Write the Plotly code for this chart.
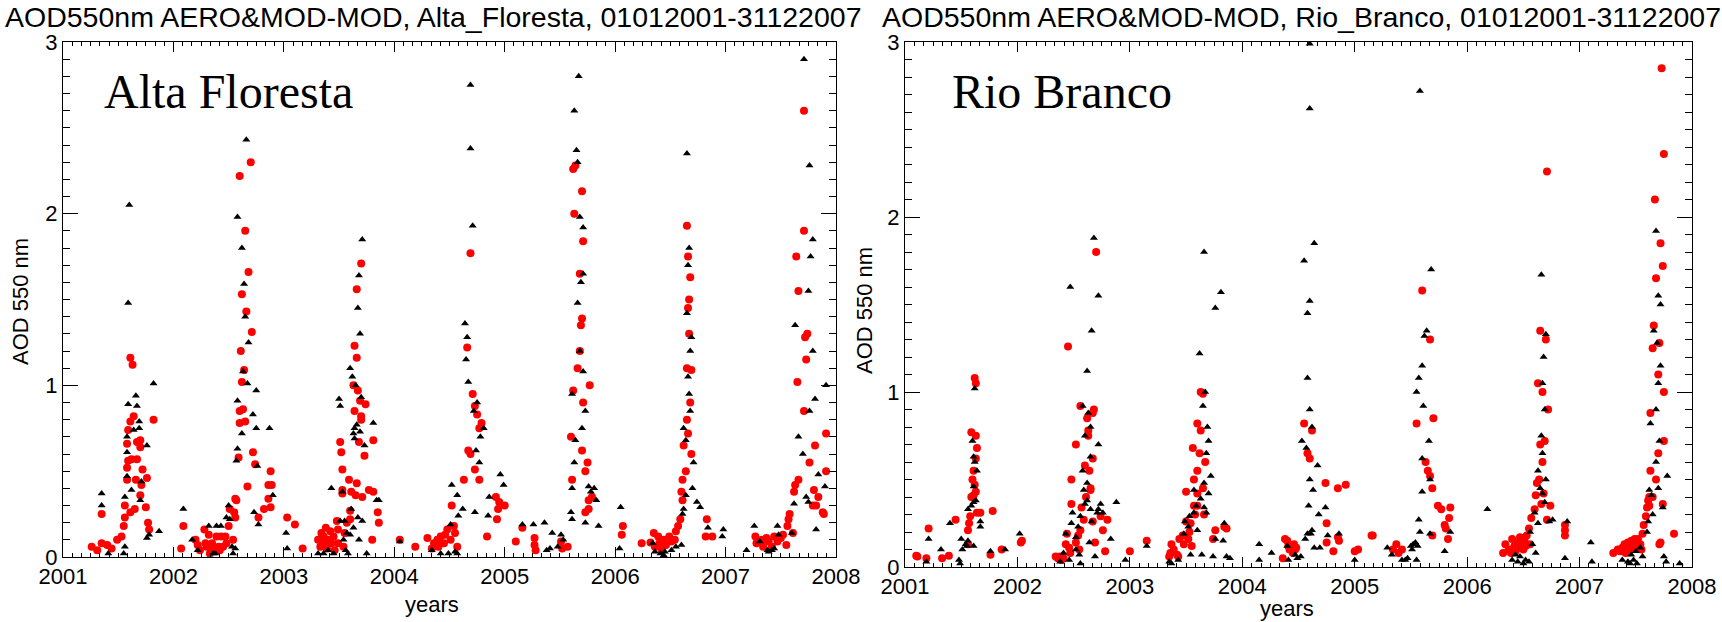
import plotly.graph_objects as go

# ---------------- data (decimal year, AOD 550 nm) ----------------
af_aero = [
    (2001.26,0.06),(2001.31,0.04),(2001.35,0.08),(2001.35,0.25),(2001.40,0.07),(2001.44,0.05),(2001.49,0.10),
    (2001.53,0.12),(2001.55,0.18),(2001.56,0.23),(2001.56,0.30),(2001.58,0.45),(2001.58,0.52),(2001.59,0.56),
    (2001.58,0.66),(2001.59,0.74),(2001.61,0.79),(2001.64,0.82),(2001.62,0.57),(2001.61,0.26),(2001.65,0.28),
    (2001.66,0.45),(2001.67,0.57),(2001.67,0.67),(2001.70,0.68),(2001.70,0.64),(2001.70,0.36),(2001.71,0.42),
    (2001.72,0.51),(2001.75,0.29),(2001.76,0.46),(2001.77,0.20),(2001.78,0.16),(2001.82,0.80),(2001.61,1.16),
    (2001.63,1.12),
    (2002.07,0.05),(2002.09,0.18),(2002.20,0.10),(2002.22,0.07),(2002.24,0.04),(2002.28,0.16),(2002.29,0.08),
    (2002.30,0.06),(2002.32,0.13),(2002.33,0.02),(2002.35,0.08),(2002.36,0.05),(2002.39,0.12),(2002.41,0.06),
    (2002.42,0.04),(2002.43,0.12),(2002.45,0.06),(2002.47,0.12),(2002.48,0.08),(2002.50,0.18),(2002.51,0.28),
    (2002.54,0.10),(2002.55,0.26),(2002.56,0.23),(2002.56,0.34),(2002.57,0.33),(2002.59,0.58),(2002.60,0.78),
    (2002.63,0.86),(2002.65,0.79),(2002.67,0.41),(2002.72,0.61),(2002.74,0.54),(2002.77,0.23),(2002.82,0.28),
    (2002.86,0.42),(2002.86,0.34),(2002.88,0.50),(2002.89,0.42),(2002.88,0.29),(2002.60,2.22),(2002.70,2.30),
    (2002.65,1.90),(2002.68,1.66),(2002.62,1.53),(2002.66,1.43),(2002.71,1.31),(2002.61,1.20),(2002.64,1.09),
    (2002.62,1.02),(2002.60,0.85),
    (2003.03,0.23),(2003.10,0.19),(2003.17,0.05),(2003.31,0.10),(2003.33,0.06),(2003.36,0.12),(2003.37,0.08),
    (2003.39,0.05),(2003.40,0.10),(2003.43,0.08),(2003.45,0.12),(2003.48,0.21),(2003.49,0.16),(2003.49,0.08),
    (2003.51,0.67),(2003.52,0.61),(2003.53,0.51),(2003.53,0.39),(2003.53,0.37),(2003.54,0.06),(2003.55,0.14),
    (2003.57,0.20),(2003.59,0.45),(2003.60,0.22),(2003.60,0.27),(2003.61,0.38),(2003.64,0.85),(2003.65,0.36),
    (2003.66,0.43),(2003.68,0.67),(2003.69,0.91),(2003.70,0.82),(2003.71,0.35),(2003.70,0.80),(2003.73,0.59),
    (2003.74,0.89),(2003.77,0.39),(2003.80,0.10),(2003.81,0.38),(2003.81,0.68),(2003.85,0.26),(2003.86,0.20),
    (2003.70,1.71),(2003.66,1.56),(2003.64,1.23),(2003.66,1.16),(2003.63,1.00),(2003.67,0.97),(2003.34,0.14),
    (2003.42,0.15),(2003.46,0.04),(2003.38,0.17),
    (2004.05,0.10),(2004.19,0.06),(2004.30,0.11),(2004.34,0.05),(2004.36,0.08),(2004.39,0.10),(2004.40,0.06),
    (2004.42,0.12),(2004.45,0.08),(2004.46,0.13),(2004.48,0.16),(2004.51,0.10),(2004.52,0.30),(2004.54,0.18),
    (2004.55,0.14),(2004.57,0.06),(2004.84,0.12),(2004.93,0.22),(2004.95,0.32),(2005.00,0.30),(2004.69,1.77),
    (2004.66,1.22),(2004.71,0.95),(2004.73,0.88),(2004.75,0.83),(2004.79,0.78),(2004.77,0.75),(2004.69,0.60),
    (2004.73,0.51),(2004.77,0.45),(2004.67,0.62),(2004.63,0.45),(2004.92,0.35),(2004.94,0.28),
    (2005.10,0.09),(2005.16,0.17),(2005.27,0.11),(2005.27,0.07),(2005.28,0.04),(2005.51,0.09),(2005.52,0.05),
    (2005.57,0.06),(2005.73,0.26),(2005.76,0.33),(2005.62,2.26),(2005.64,2.28),(2005.70,2.13),(2005.63,2.00),
    (2005.71,1.84),(2005.68,1.65),(2005.70,1.39),(2005.69,1.35),(2005.68,1.20),(2005.66,1.10),(2005.77,1.00),
    (2005.62,0.97),(2005.71,0.90),(2005.60,0.70),(2005.70,0.62),(2005.75,0.55),(2005.73,0.50),(2005.61,0.45),
    (2005.79,0.35),(2005.76,0.28),
    (2006.06,0.13),(2006.07,0.18),(2006.24,0.08),(2006.32,0.085),(2006.35,0.14),(2006.36,0.06),(2006.39,0.12),
    (2006.40,0.08),(2006.42,0.04),(2006.44,0.10),(2006.46,0.07),(2006.49,0.12),(2006.51,0.09),(2006.54,0.10),
    (2006.55,0.15),(2006.57,0.18),(2006.59,0.22),(2006.60,0.38),(2006.61,0.33),(2006.83,0.22),(2006.82,0.12),
    (2006.88,0.12),(2006.65,1.93),(2006.66,1.75),(2006.68,1.63),(2006.67,1.50),(2006.66,1.45),(2006.67,1.30),
    (2006.65,1.10),(2006.69,1.09),(2006.68,0.90),(2006.65,0.80),(2006.66,0.72),(2006.62,0.65),(2006.69,0.60),
    (2006.64,0.50),(2006.61,0.45),
    (2007.27,0.12),(2007.28,0.08),(2007.33,0.10),(2007.34,0.06),(2007.37,0.11),(2007.39,0.09),(2007.42,0.06),
    (2007.44,0.12),(2007.47,0.09),(2007.50,0.11),(2007.52,0.13),(2007.55,0.07),(2007.56,0.18),(2007.57,0.22),
    (2007.58,0.25),(2007.61,0.14),(2007.62,0.38),(2007.63,0.42),(2007.80,0.39),(2007.82,0.30),(2007.88,0.26),
    (2007.71,2.60),(2007.71,1.90),(2007.64,1.75),(2007.66,1.55),(2007.74,1.30),(2007.72,1.28),(2007.73,1.15),
    (2007.65,1.02),(2007.71,0.85),(2007.91,0.72),(2007.81,0.65),(2007.76,0.55),(2007.91,0.50),(2007.66,0.45),
    (2007.84,0.35),(2007.79,0.30),(2007.89,0.25),
]

af_mod = [
    (2001.35,0.37),(2001.35,0.30),(2001.41,0.02),(2001.55,0.02),(2001.56,0.06),(2001.56,0.35),(2001.58,0.47),
    (2001.58,0.61),(2001.58,0.70),(2001.59,0.89),(2001.62,0.39),(2001.64,0.74),(2001.66,0.94),(2001.67,0.88),
    (2001.69,0.79),(2001.69,0.75),(2001.70,0.33),(2001.71,0.44),(2001.76,0.65),(2001.76,0.11),(2001.78,0.13),
    (2001.82,1.01),(2001.87,0.15),(2001.60,2.05),(2001.59,1.48),
    (2002.09,0.28),(2002.17,0.10),(2002.22,0.04),(2002.32,0.18),(2002.36,0.02),(2002.38,0.02),(2002.39,0.18),
    (2002.43,0.18),(2002.48,0.23),(2002.50,0.30),(2002.51,0.22),(2002.53,0.06),(2002.54,0.02),(2002.56,0.05),
    (2002.57,0.56),(2002.58,0.63),(2002.58,0.91),(2002.62,0.72),(2002.67,1.01),(2002.72,0.83),(2002.73,0.26),
    (2002.75,0.75),(2002.76,0.53),(2002.77,0.19),(2002.87,0.75),(2002.90,0.36),(2003.02,0.14),(2003.03,0.05),
    (2002.66,2.43),(2002.58,1.98),(2002.62,1.80),(2002.64,1.59),(2002.65,1.40),(2002.68,1.25),(2002.63,1.08),
    (2002.75,0.97),
    (2003.31,0.02),(2003.36,0.02),(2003.40,0.04),(2003.43,0.40),(2003.45,0.02),(2003.50,0.92),(2003.51,0.88),
    (2003.51,0.21),(2003.53,0.38),(2003.54,0.10),(2003.55,0.21),(2003.56,0.04),(2003.57,0.14),(2003.58,0.02),
    (2003.60,0.13),(2003.61,0.28),(2003.63,0.17),(2003.63,0.72),(2003.64,0.69),(2003.64,0.75),(2003.65,1.00),
    (2003.66,0.77),(2003.67,0.23),(2003.68,0.10),(2003.69,0.73),(2003.70,0.93),(2003.71,0.21),(2003.73,0.65),
    (2003.75,0.02),(2003.81,0.78),(2003.84,0.33),(2003.86,0.33),(2003.71,1.85),(2003.68,1.64),(2003.67,1.45),
    (2003.69,1.30),(2003.60,1.10),(2003.62,1.05),
    (2004.05,0.09),(2004.34,0.04),(2004.42,0.02),(2004.49,0.02),(2004.51,0.19),(2004.52,0.42),(2004.57,0.36),
    (2004.58,0.24),(2004.62,0.28),(2004.73,0.26),(2004.85,0.24),(2004.55,0.03),(2004.57,0.02),(2004.69,2.75),
    (2004.69,2.38),(2004.71,1.93),(2004.64,1.36),(2004.66,1.28),(2004.65,1.15),(2004.67,1.02),(2004.75,0.90),
    (2004.72,0.85),(2004.81,0.75),(2004.78,0.70),(2004.74,0.62),(2004.77,0.55),(2004.96,0.48),(2004.86,0.35),
    (2004.99,0.42),
    (2005.16,0.19),(2005.26,0.19),(2005.36,0.20),(2005.43,0.14),(2005.38,0.04),(2005.41,0.05),(2005.48,0.06),
    (2005.51,0.13),(2005.53,0.10),(2005.60,0.26),(2005.61,0.22),(2005.61,0.40),(2005.73,0.20),(2005.76,0.41),
    (2005.85,0.18),(2005.83,0.33),(2005.67,2.80),(2005.63,2.60),(2005.65,2.37),(2005.66,2.30),(2005.68,1.98),
    (2005.71,1.92),(2005.71,1.65),(2005.69,1.60),(2005.66,1.48),(2005.68,1.20),(2005.71,1.08),(2005.61,0.95),
    (2005.73,0.85),(2005.70,0.75),(2005.64,0.68),(2005.63,0.55),(2005.81,0.40),(2005.78,0.38),
    (2006.05,0.29),(2006.04,0.05),(2006.34,0.08),(2006.36,0.03),(2006.41,0.02),(2006.44,0.01),(2006.45,0.03),
    (2006.51,0.04),(2006.55,0.06),(2006.60,0.07),(2006.61,0.25),(2006.62,0.28),(2006.64,0.36),(2006.74,0.32),
    (2006.77,0.29),(2006.84,0.17),(2006.98,0.16),(2006.97,0.12),(2006.65,2.35),(2006.67,1.80),(2006.66,1.70),
    (2006.65,1.42),(2006.69,1.28),(2006.68,1.20),(2006.66,1.05),(2006.67,0.95),(2006.68,0.85),(2006.62,0.75),
    (2006.64,0.68),(2006.71,0.55),(2006.70,0.40),
    (2007.19,0.04),(2007.26,0.18),(2007.31,0.09),(2007.38,0.04),(2007.39,0.03),(2007.42,0.04),(2007.44,0.05),
    (2007.47,0.18),(2007.48,0.13),(2007.60,0.14),(2007.62,0.31),(2007.75,0.32),(2007.82,0.16),(2007.90,0.41),
    (2007.71,2.90),(2007.76,2.28),(2007.79,1.85),(2007.77,1.75),(2007.75,1.55),(2007.63,1.35),(2007.79,1.20),
    (2007.91,1.00),(2007.81,0.92),(2007.76,0.85),(2007.66,0.70),(2007.70,0.60),(2007.84,0.48),(2007.73,0.35),
]

rb_aero = [
    (2001.10,0.065),(2001.11,0.06),(2001.19,0.05),(2001.21,0.22),(2001.33,0.05),(2001.39,0.065),(2001.45,0.27),
    (2001.56,0.13),(2001.56,0.21),(2001.57,0.25),(2001.58,0.29),(2001.59,0.40),(2001.61,0.41),(2001.63,0.43),
    (2001.64,0.31),(2001.67,0.31),(2001.76,0.07),(2001.78,0.32),(2001.86,0.10),(2002.03,0.14),(2002.04,0.15),
    (2001.62,1.08),(2001.63,1.05),(2001.59,0.77),(2001.63,0.75),(2001.64,0.68),(2001.63,0.62),(2001.61,0.55),
    (2001.60,0.50),(2001.62,0.47),
    (2002.34,0.06),(2002.36,0.05),(2002.38,0.06),(2002.39,0.04),(2002.41,0.05),(2002.43,0.13),(2002.44,0.19),
    (2002.46,0.11),(2002.47,0.08),(2002.48,0.36),(2002.52,0.14),(2002.54,0.18),(2002.55,0.10),(2002.56,0.21),
    (2002.57,0.34),(2002.59,0.27),(2002.61,0.40),(2002.65,0.44),(2002.67,0.26),(2002.69,0.14),(2002.74,0.29),
    (2002.76,0.21),(2002.78,0.09),(2002.80,0.27),(2003.00,0.09),(2003.15,0.15),(2002.70,1.80),(2002.45,1.26),
    (2002.56,0.92),(2002.68,0.90),(2002.67,0.88),(2002.62,0.85),(2002.63,0.78),(2002.63,0.75),(2002.52,0.70),
    (2002.67,0.62),(2002.60,0.58),(2002.64,0.55),(2002.48,0.50),(2002.65,0.45),
    (2003.35,0.06),(2003.36,0.08),(2003.37,0.13),(2003.39,0.10),(2003.42,0.07),(2003.43,0.06),(2003.44,0.16),
    (2003.47,0.18),(2003.48,0.13),(2003.50,0.43),(2003.50,0.26),(2003.52,0.16),(2003.53,0.20),(2003.54,0.25),
    (2003.55,0.12),(2003.57,0.35),(2003.58,0.30),(2003.60,0.42),(2003.60,0.35),(2003.66,0.30),(2003.74,0.16),
    (2003.76,0.21),(2003.84,0.23),(2003.86,0.22),(2003.63,1.00),(2003.65,0.99),(2003.60,0.82),(2003.63,0.78),
    (2003.56,0.68),(2003.62,0.65),(2003.67,0.60),(2003.60,0.55),(2003.57,0.50),(2003.65,0.45),
    (2004.36,0.05),(2004.38,0.16),(2004.40,0.15),(2004.41,0.12),(2004.42,0.10),(2004.45,0.08),(2004.46,0.13),
    (2004.47,0.10),(2004.48,0.11),(2004.75,0.14),(2004.75,0.25),(2004.81,0.09),(2004.85,0.17),(2004.86,0.15),
    (2004.92,0.47),(2005.00,0.09),(2005.03,0.10),(2005.15,0.18),(2004.55,0.82),(2004.62,0.78),(2004.58,0.65),
    (2004.60,0.62),(2004.74,0.48),(2004.85,0.45),
    (2005.16,0.18),(2005.34,0.10),(2005.37,0.13),(2005.39,0.08),(2005.42,0.10),(2005.69,0.18),(2005.74,0.35),
    (2005.77,0.33),(2005.80,0.24),(2005.81,0.22),(2005.84,0.28),(2005.85,0.34),(2005.83,0.16),(2005.60,1.58),
    (2005.67,1.30),(2005.70,0.85),(2005.55,0.82),(2005.63,0.60),(2005.65,0.55),(2005.67,0.52),(2005.69,0.45),
    (2006.32,0.08),(2006.34,0.13),(2006.37,0.10),(2006.39,0.08),(2006.40,0.16),(2006.42,0.12),(2006.43,0.09),
    (2006.45,0.14),(2006.46,0.11),(2006.47,0.17),(2006.48,0.13),(2006.50,0.10),(2006.51,0.15),(2006.52,0.12),
    (2006.53,0.18),(2006.55,0.22),(2006.56,0.13),(2006.57,0.28),(2006.60,0.33),(2006.61,0.41),(2006.62,0.48),
    (2006.66,0.36),(2006.68,0.42),(2006.71,0.27),(2006.74,0.35),(2006.87,0.24),(2006.87,0.21),(2006.87,0.18),
    (2006.71,2.26),(2006.65,1.35),(2006.70,1.30),(2006.63,1.05),(2006.67,1.00),(2006.72,0.90),(2006.69,0.72),
    (2006.65,0.70),(2006.67,0.60),(2006.64,0.50),
    (2007.30,0.08),(2007.34,0.10),(2007.36,0.09),(2007.38,0.11),(2007.40,0.13),(2007.41,0.08),(2007.43,0.14),
    (2007.44,0.12),(2007.45,0.10),(2007.46,0.15),(2007.48,0.13),(2007.49,0.16),(2007.50,0.12),(2007.51,0.13),
    (2007.52,0.16),(2007.54,0.13),(2007.55,0.10),(2007.56,0.19),(2007.57,0.24),(2007.59,0.29),(2007.60,0.34),
    (2007.61,0.38),(2007.62,0.40),(2007.65,0.40),(2007.71,0.13),(2007.72,0.14),(2007.74,0.36),(2007.84,0.19),
    (2007.73,2.85),(2007.75,2.36),(2007.67,2.10),(2007.72,1.85),(2007.74,1.72),(2007.68,1.65),(2007.66,1.38),
    (2007.71,1.28),(2007.65,1.25),(2007.70,1.10),(2007.75,1.00),(2007.63,0.88),(2007.75,0.72),(2007.70,0.65),
    (2007.63,0.55),(2007.68,0.50),(2007.62,0.35),
]

rb_mod = [
    (2001.19,0.03),(2001.21,0.16),(2001.32,0.10),(2001.40,0.25),(2001.48,0.04),(2001.49,0.02),(2001.50,0.16),
    (2001.51,0.10),(2001.54,0.13),(2001.55,0.12),(2001.56,0.33),(2001.59,0.35),(2001.61,0.37),(2001.61,0.12),
    (2001.67,0.26),(2001.67,0.23),(2001.76,0.09),(2001.89,0.10),(2002.02,0.19),(2001.56,0.15),(2001.62,1.02),
    (2001.60,0.72),(2001.61,0.63),(2001.62,0.60),(2001.64,0.55),(2001.61,0.46),(2001.63,0.38),
    (2002.38,0.03),(2002.41,0.08),(2002.43,0.19),(2002.46,0.04),(2002.48,0.25),(2002.49,0.31),(2002.52,0.10),
    (2002.52,0.17),(2002.54,0.23),(2002.55,0.07),(2002.56,0.02),(2002.56,0.29),(2002.59,0.44),(2002.60,0.36),
    (2002.62,0.38),(2002.64,0.14),(2002.65,0.33),(2002.66,0.26),(2002.69,0.06),(2002.71,0.31),(2002.72,0.33),
    (2002.74,0.36),(2002.76,0.31),(2002.83,0.16),(2002.88,0.37),(2002.96,0.04),(2003.15,0.12),(2002.68,1.88),
    (2002.47,1.60),(2002.72,1.55),(2002.66,1.35),(2002.62,1.12),(2002.58,0.92),(2002.63,0.88),(2002.65,0.80),
    (2002.60,0.75),(2002.72,0.70),(2002.65,0.63),(2002.58,0.55),(2002.62,0.48),
    (2003.35,0.03),(2003.37,0.02),(2003.43,0.04),(2003.48,0.19),(2003.49,0.26),(2003.52,0.23),(2003.53,0.29),
    (2003.54,0.07),(2003.57,0.31),(2003.57,0.44),(2003.59,0.35),(2003.60,0.21),(2003.63,0.39),(2003.64,0.07),
    (2003.66,0.34),(2003.68,0.31),(2003.70,0.42),(2003.74,0.06),(2003.76,0.16),(2003.83,0.15),(2003.84,0.25),
    (2003.86,0.06),(2003.89,0.05),(2003.66,1.80),(2003.81,1.57),(2003.76,1.48),(2003.62,1.22),(2003.67,1.00),
    (2003.65,0.92),(2003.69,0.80),(2003.70,0.72),(2003.68,0.65),(2003.72,0.52),(2003.66,0.48),
    (2004.15,0.13),(2004.15,0.04),(2004.26,0.08),(2004.40,0.12),(2004.41,0.04),(2004.47,0.07),(2004.49,0.05),
    (2004.52,0.06),(2004.56,0.16),(2004.58,0.19),(2004.59,0.35),(2004.61,0.19),(2004.62,0.21),(2004.63,0.44),
    (2004.64,0.11),(2004.68,0.30),(2004.69,0.11),(2004.74,0.34),(2004.76,0.18),(2004.86,0.19),(2005.00,0.04),
    (2004.60,2.99),(2004.60,2.62),(2004.64,1.85),(2004.55,1.75),(2004.60,1.52),(2004.58,1.45),(2004.58,1.08),
    (2004.60,0.90),(2004.62,0.80),(2004.53,0.72),(2004.57,0.68),(2004.67,0.58),(2004.60,0.50),
    (2005.29,0.11),(2005.33,0.07),(2005.42,0.04),(2005.45,0.04),(2005.47,0.05),(2005.50,0.12),(2005.51,0.10),
    (2005.52,0.13),(2005.54,0.14),(2005.55,0.04),(2005.56,0.12),(2005.57,0.27),(2005.58,0.20),(2005.60,0.43),
    (2005.67,0.19),(2005.80,0.09),(2005.85,0.20),(2005.58,2.72),(2005.68,1.70),(2005.64,1.35),(2005.62,1.32),
    (2005.60,1.15),(2005.57,1.08),(2005.55,1.00),(2005.61,0.92),(2005.66,0.72),(2005.60,0.62),(2005.67,0.50),
    (2006.18,0.33),(2006.40,0.04),(2006.43,0.07),(2006.45,0.03),(2006.47,0.06),(2006.50,0.02),(2006.52,0.04),
    (2006.55,0.03),(2006.56,0.20),(2006.58,0.13),(2006.60,0.31),(2006.61,0.08),(2006.63,0.25),(2006.65,0.45),
    (2006.67,0.42),(2006.69,0.37),(2006.73,0.26),(2006.76,0.27),(2006.89,0.26),(2006.87,0.05),(2007.11,0.03),
    (2007.10,0.14),(2006.66,1.67),(2006.70,1.33),(2006.68,1.20),(2006.67,1.05),(2006.69,0.90),(2006.66,0.75),
    (2006.67,0.65),(2006.63,0.55),(2006.70,0.50),
    (2007.38,0.04),(2007.43,0.03),(2007.45,0.02),(2007.46,0.07),(2007.48,0.04),(2007.50,0.09),(2007.51,0.02),
    (2007.54,0.11),(2007.56,0.06),(2007.60,0.20),(2007.61,0.26),(2007.62,0.44),(2007.64,0.41),(2007.74,0.34),
    (2007.75,0.06),(2007.77,0.03),(2007.89,0.02),(2007.68,1.92),(2007.70,1.55),(2007.72,1.50),(2007.66,1.35),
    (2007.69,1.28),(2007.72,1.15),(2007.70,1.05),(2007.68,0.90),(2007.63,0.82),(2007.71,0.72),(2007.68,0.60),
    (2007.78,0.52),(2007.70,0.45),(2007.65,0.30),
]

year_ticks = [2001, 2002, 2003, 2004, 2005, 2006, 2007, 2008]
aod_ticks = [0, 1, 2, 3]
titles = ["AOD550nm AERO&MOD-MOD, Alta_Floresta, 01012001-31122007",
          "AOD550nm AERO&MOD-MOD, Rio_Branco, 01012001-31122007"]
sites = ["Alta Floresta", "Rio Branco"]
x_title = "years"
y_title = "AOD 550 nm"

# ---------------- figure ----------------
W, H = 1722, 622
SANS = "Liberation Sans Narrow, Arial Narrow, Liberation Sans, Arial, sans-serif"
SERIF = "Liberation Serif, Times New Roman, serif"

fig = go.Figure()

def add_panel(aero, mod, xa, ya):
    fig.add_trace(go.Scatter(
        x=[p[0] for p in aero], y=[p[1] for p in aero], mode="markers",
        marker=dict(symbol="circle", size=8, color="#ff0000", line=dict(width=0)),
        xaxis=xa, yaxis=ya, hoverinfo="skip", showlegend=False, name="AERONET"))
    fig.add_trace(go.Scatter(
        x=[p[0] for p in mod], y=[p[1] for p in mod], mode="markers",
        marker=dict(symbol="triangle-up", size=7, color="#000000", line=dict(width=0)),
        xaxis=xa, yaxis=ya, hoverinfo="skip", showlegend=False, name="MODIS"))

add_panel(af_aero, af_mod, "x", "y")
add_panel(rb_aero, rb_mod, "x2", "y2")

def px(v):
    return v / W

def py(v):
    return (H - v) / H

def xaxis(domain, anchor):
    return dict(
        domain=domain, anchor=anchor, range=[2001, 2008], automargin=False,
        tickvals=year_ticks, ticktext=[str(t) for t in year_ticks],
        ticks="inside", ticklen=10, tickwidth=1, tickcolor="#000",
        minor=dict(dtick=1/12, tick0=2001, ticks="inside", ticklen=4, tickwidth=1, tickcolor="#000"),
        showline=True, linecolor="#000", linewidth=1, mirror="ticks",
        showgrid=False, zeroline=False,
        tickfont=dict(family=SANS, size=22, color="#000"),
    )

def yaxis(domain, anchor):
    return dict(
        domain=domain, anchor=anchor, range=[0, 3], automargin=False,
        tickvals=aod_ticks, ticktext=[str(t) for t in aod_ticks],
        ticks="inside", ticklen=15, tickwidth=1, tickcolor="#000",
        minor=dict(dtick=0.1, tick0=0, ticks="inside", ticklen=7, tickwidth=1, tickcolor="#000"),
        showline=True, linecolor="#000", linewidth=1, mirror="ticks",
        showgrid=False, zeroline=False,
        tickfont=dict(family=SANS, size=22, color="#000"),
    )

def note(text, x, y, size, family=SANS, xanchor="center", angle=0):
    return dict(text=text, x=px(x), y=py(y), xref="paper", yref="paper",
                xanchor=xanchor, yanchor="middle", showarrow=False, textangle=angle,
                font=dict(family=family, size=size, color="#000"))

fig.update_layout(
    width=W, height=H, margin=dict(l=0, r=0, t=0, b=0, autoexpand=False),
    paper_bgcolor="#fff", plot_bgcolor="#fff",
    xaxis=xaxis([px(63), px(836)], "y"),
    yaxis=yaxis([py(557), py(42)], "x"),
    xaxis2=xaxis([px(905), px(1692)], "y2"),
    yaxis2=yaxis([py(567), py(42)], "x2"),
    annotations=[
        note(titles[0], 433, 17, 28.5),
        note(titles[1], 1301, 17, 28.5),
        note(sites[0], 102, 92, 48, SERIF, "left"),
        note(sites[1], 950, 92, 48, SERIF, "left"),
        note(x_title, 432, 604, 22),
        note(x_title, 1287, 608, 22),
        note(y_title, 20, 302, 22, angle=-90),
        note(y_title, 864, 311, 22, angle=-90),
    ],
)

fig.write_html("out.html",
               config={"displayModeBar": False},
               post_script="document.body.style.margin='0';document.body.style.padding='0';"
                           "document.body.style.overflow='hidden';")
